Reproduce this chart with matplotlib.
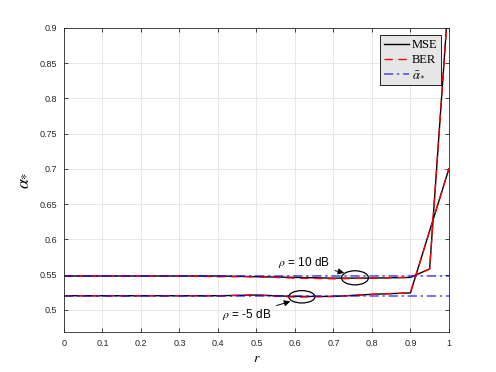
import matplotlib
matplotlib.use("Agg")
import matplotlib.pyplot as plt
from matplotlib.patches import Ellipse

# data
r = [0, 0.1, 0.2, 0.3, 0.4, 0.5, 0.6, 0.7, 0.8, 0.9, 0.95, 1.0]
mse_hi = [0.548, 0.548, 0.548, 0.548, 0.548, 0.547, 0.546, 0.545, 0.545, 0.546, 0.558, 0.95]
ber_hi = [0.548, 0.548, 0.548, 0.548, 0.547, 0.547, 0.545, 0.544, 0.545, 0.546, 0.558, 0.95]
mse_lo = [0.520, 0.520, 0.520, 0.520, 0.520, 0.521, 0.519, 0.519, 0.522, 0.524, 0.612, 0.700]
ber_lo = [0.520, 0.520, 0.520, 0.520, 0.520, 0.521, 0.518, 0.519, 0.522, 0.524, 0.612, 0.700]
alpha_bar = [0.548, 0.520]

plt.rcParams["font.family"] = "Liberation Sans"
plt.rcParams["mathtext.fontset"] = "stix"

fig = plt.figure(figsize=(4.96, 3.72), dpi=100)
ax = fig.add_axes([0.129, 0.108, 0.776, 0.817])

ax.plot(r, mse_hi, color="black", lw=1.0, label="MSE")
ax.plot(r, ber_hi, color="red", lw=1.0, ls=(0, (6, 4)), label="BER")
ax.plot(r, mse_lo, color="black", lw=1.0)
ax.plot(r, ber_lo, color="red", lw=1.0, ls=(0, (6, 4)))
for i, a in enumerate(alpha_bar):
    ax.axhline(a, color="blue", lw=1.1, ls=(0, (6, 2.5, 1.5, 2.5)), alpha=0.7,
               label=r"$\bar{\alpha}_{*}$" if i == 0 else None)

# annotations
ax.add_patch(Ellipse((0.756, 0.5454), 0.07, 0.02, fill=False, color="black", lw=0.9))
ax.add_patch(Ellipse((0.618, 0.5185), 0.068, 0.0175, fill=False, color="black", lw=0.9))
ax.annotate(r"$\rho$ = 10 dB", xy=(0.735, 0.5515), xytext=(0.555, 0.5665),
            fontsize=8.5, va="center",
            arrowprops=dict(arrowstyle="-|>", color="black", lw=0.7, mutation_scale=9))
ax.annotate(r"$\rho$ = -5 dB", xy=(0.595, 0.513), xytext=(0.41, 0.4935),
            fontsize=8.5, va="center",
            arrowprops=dict(arrowstyle="-|>", color="black", lw=0.7, mutation_scale=9))

ax.set_xlim(0, 1)
ax.set_ylim(0.4688, 0.9)
ax.set_xticks([i / 10 for i in range(11)])
ax.set_xticklabels(["0", "0.1", "0.2", "0.3", "0.4", "0.5", "0.6", "0.7", "0.8", "0.9", "1"])
ax.set_yticks([0.5, 0.55, 0.6, 0.65, 0.7, 0.75, 0.8, 0.85, 0.9])
ax.set_yticklabels(["0.5", "0.55", "0.6", "0.65", "0.7", "0.75", "0.8", "0.85", "0.9"])
ax.tick_params(direction="in", length=3, width=0.6, labelsize=6.5, colors="#262626",
               top=True, right=True, pad=5)
ax.grid(True, color="#e3e3e3", lw=0.6)
ax.set_axisbelow(True)
for s in ax.spines.values():
    s.set_color("#262626")
    s.set_linewidth(0.6)

ax.set_xlabel(r"$r$", fontsize=10, labelpad=2)
ax.set_ylabel(r"$\alpha_{*}$", fontsize=13, labelpad=6)

leg = ax.legend(loc="upper right", prop={"family": "Liberation Serif", "size": 9},
                fancybox=False, framealpha=1, facecolor="#e6e6e6", edgecolor="black",
                handlelength=2.0, borderpad=0.3, labelspacing=0.25, handletextpad=0.25,
                borderaxespad=0.6)
leg.get_frame().set_linewidth(0.6)

fig.savefig("out.png", dpi=100)
